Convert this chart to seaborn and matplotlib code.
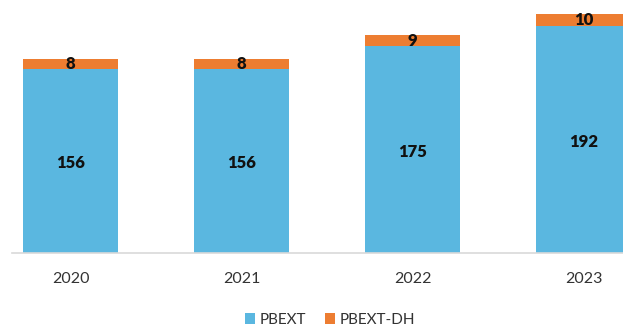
import matplotlib
matplotlib.use("Agg")
import matplotlib.pyplot as plt
import seaborn as sns
import pandas as pd

years = ["2020", "2021", "2022", "2023"]
pbext = [156, 156, 175, 192]
pbext_dh = [8, 8, 9, 10]

sns.set_theme(style="white")
plt.rcParams['font.family'] = ['Lato', 'DejaVu Sans']

blue = "#5AB7E0"
orange = "#ED7D31"

fig = plt.figure(figsize=(6.23, 3.28), dpi=100)
ax = fig.add_axes([12/623, 75/328, 611/623, 253/328])

df = pd.DataFrame({"year": years, "PBEXT": pbext, "PBEXT-DH": pbext_dh})
df["total"] = df["PBEXT"] + df["PBEXT-DH"]

w = 0.556
sns.barplot(data=df, x="year", y="total", color=orange, width=w, ax=ax, saturation=1,
            label="PBEXT-DH", linewidth=0, edgecolor="none")
sns.barplot(data=df, x="year", y="PBEXT", color=blue, width=w, ax=ax, saturation=1,
            label="PBEXT", linewidth=0, edgecolor="none")

for i, (a, b) in enumerate(zip(pbext, pbext_dh)):
    ax.text(i, a / 2 - 2, str(a), ha="center", va="center", fontsize=12, fontweight="heavy", color="#111111")
    ax.text(i, a + b / 2, str(b), ha="center", va="center", fontsize=12, fontweight="heavy", color="#111111")

ax.set_xlim(-0.342, 3.231)
ax.set_ylim(0, 214)
ax.set_xlabel("")
ax.set_ylabel("")
ax.set_yticks([])
for s in ["top", "right", "left"]:
    ax.spines[s].set_visible(False)
ax.spines["bottom"].set_color("#d9d9d9")
ax.spines["bottom"].set_linewidth(1.2)
ax.tick_params(axis="x", length=0, labelsize=11.5, pad=14, colors="#333333")

handles, labels = ax.get_legend_handles_labels()
order = [labels.index("PBEXT"), labels.index("PBEXT-DH")]
ax.legend([handles[k] for k in order], [labels[k] for k in order],
          loc="center", bbox_to_anchor=(330/623, 8/328), bbox_transform=fig.transFigure,
          ncol=2, frameon=False, fontsize=11, handlelength=0.7, handleheight=0.7,
          handletextpad=0.3, columnspacing=1.2, labelcolor="#333333")

fig.savefig("out.png", dpi=100)
